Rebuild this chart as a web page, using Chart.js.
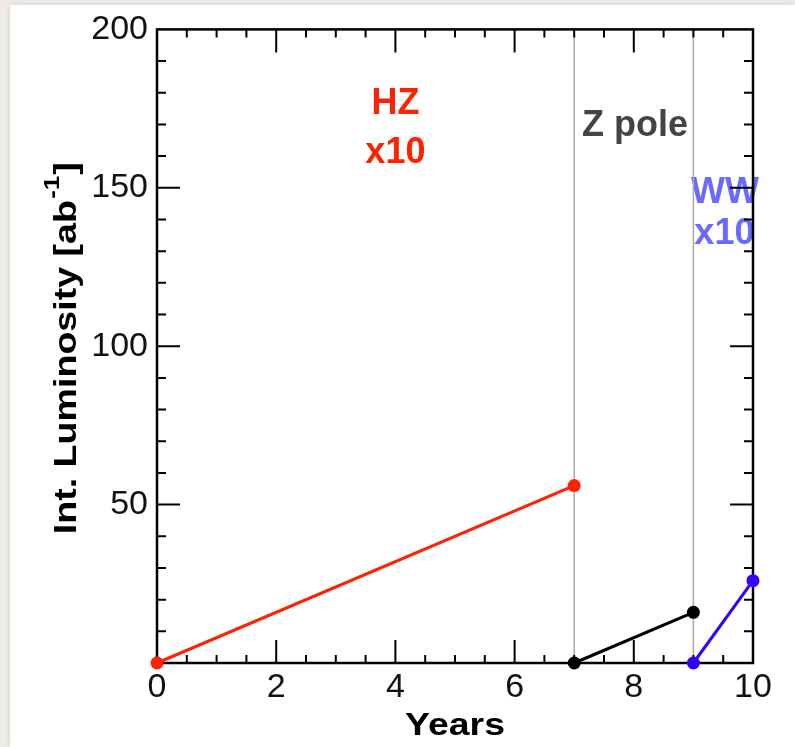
<!DOCTYPE html>
<html>
<head>
<meta charset="utf-8">
<script src="https://cdn.jsdelivr.net/npm/chart.js@4.4.1/dist/chart.umd.min.js"></script>
<style>
  html, body { margin: 0; padding: 0; background: #efece7; }
  #wrap { width: 795px; height: 747px; }
</style>
</head>
<body>
<div id="wrap"><canvas id="lumi-chart" width="795" height="747"></canvas></div>
<script>
// run plan: years vs integrated luminosity
const hzYears = [0, 7];
const hzLumi = [0, 56];
const zYears = [7, 9];
const zLumi = [0, 16];
const wwYears = [9, 10];
const wwLumi = [0, 26];

const xTicks = [0, 2, 4, 6, 8, 10];
const yTicks = [0, 50, 100, 150, 200];
const phaseEdges = [7, 9];

const FONT = "'Liberation Sans', Arial, Helvetica, sans-serif";

function pts(xs, ys) {
    return xs.map((x, i) => ({ x: x, y: ys[i] }));
}

// labels placed in data units
const phaseLabels = [
    { text: 'HZ', x: 4.0, y: 173.2, color: '#ff2200' },
    { text: 'x10', x: 4.0, y: 157.8, color: '#ff2200' },
    { text: 'Z pole', x: 8.02, y: 166.3, color: '#444444' },
    { text: 'WW', x: 9.53, y: 145.2, color: '#6a6aff' },
    { text: 'x10', x: 9.52, y: 132.3, color: '#6a6aff' }
];

const framePlugin = {
    id: 'frame',
    beforeDraw(chart) {
        const ctx = chart.ctx;
        ctx.save();
        ctx.fillStyle = '#efece7';
        ctx.fillRect(0, 0, chart.width, chart.height);
        ctx.shadowColor = 'rgba(0,0,0,0.12)';
        ctx.shadowBlur = 6;
        ctx.fillStyle = '#ffffff';
        ctx.fillRect(10, 5, chart.width - 10, chart.height - 5);
        ctx.restore();
    },
    beforeDatasetsDraw(chart) {
        const ctx = chart.ctx;
        const { left, right, top, bottom } = chart.chartArea;
        const xs = chart.scales.x, ys = chart.scales.y;
        ctx.save();

        // phase labels
        ctx.font = 'bold 36px ' + FONT;
        ctx.textAlign = 'center';
        ctx.textBaseline = 'alphabetic';
        phaseLabels.forEach(l => {
            ctx.fillStyle = l.color;
            ctx.fillText(l.text, xs.getPixelForValue(l.x), ys.getPixelForValue(l.y));
        });

        // phase boundaries
        ctx.strokeStyle = '#aaaaaa';
        ctx.lineWidth = 1.5;
        phaseEdges.forEach(v => {
            const px = xs.getPixelForValue(v);
            ctx.beginPath();
            ctx.moveTo(px, top);
            ctx.lineTo(px, bottom);
            ctx.stroke();
        });

        // frame + inward ticks
        ctx.strokeStyle = '#000';
        ctx.lineWidth = 2.5;
        ctx.strokeRect(left, top, right - left, bottom - top);
        ctx.lineWidth = 2;
        ctx.beginPath();
        for (let v = 0.5; v < 10; v += 0.5) {
            const px = xs.getPixelForValue(v);
            const len = (v % 2 === 0) ? 23 : 8;
            ctx.moveTo(px, bottom); ctx.lineTo(px, bottom - len);
            ctx.moveTo(px, top); ctx.lineTo(px, top + len);
        }
        for (let v = 10; v < 200; v += 10) {
            const py = ys.getPixelForValue(v);
            const len = (v % 50 === 0) ? 23 : 9;
            ctx.moveTo(left, py); ctx.lineTo(left + len, py);
            ctx.moveTo(right, py); ctx.lineTo(right - len, py);
        }
        ctx.stroke();
        ctx.restore();
    },
    afterDraw(chart) {
        const ctx = chart.ctx;
        const { left, right, top, bottom } = chart.chartArea;
        ctx.save();
        ctx.fillStyle = '#000';
        ctx.textBaseline = 'alphabetic';

        // x title, stretched a bit like the original
        ctx.font = 'bold 32px ' + FONT;
        const xt = 'Years';
        const xw = ctx.measureText(xt).width;
        ctx.translate((left + right) / 2, 735);
        ctx.scale(100 / xw, 1);
        ctx.textAlign = 'center';
        ctx.fillText(xt, 0, 0);
        ctx.restore();

        // y title with superscript
        ctx.save();
        ctx.fillStyle = '#000';
        ctx.textBaseline = 'alphabetic';
        ctx.textAlign = 'left';
        const main = 'Int. Luminosity [ab', sup = '-1', end = ']';
        const mainFont = 'bold 32px ' + FONT, supFont = 'bold 22px ' + FONT;
        ctx.font = mainFont;
        const w1 = ctx.measureText(main).width, w3 = ctx.measureText(end).width;
        ctx.font = supFont;
        const w2 = ctx.measureText(sup).width + 2;
        const total = w1 + w2 + w3;
        ctx.translate(76, (top + bottom) / 2 + 2);
        ctx.rotate(-Math.PI / 2);
        ctx.scale(372 / total, 1);
        let x = -total / 2;
        ctx.font = mainFont;
        ctx.fillText(main, x, 0);
        x += w1;
        ctx.font = supFont;
        ctx.fillText(sup, x + 1, -17);
        x += w2;
        ctx.font = mainFont;
        ctx.fillText(end, x, 0);
        ctx.restore();
    }
};

const tickFont = { family: FONT, size: 34 };

new Chart(document.getElementById('lumi-chart').getContext('2d'), {
    type: 'line',
    data: {
        datasets: [
            { label: 'HZ', data: pts(hzYears, hzLumi), borderColor: '#ff2200', backgroundColor: '#ff2200' },
            { label: 'Z pole', data: pts(zYears, zLumi), borderColor: '#000000', backgroundColor: '#000000' },
            { label: 'WW', data: pts(wwYears, wwLumi), borderColor: '#3300ff', backgroundColor: '#3300ff' }
        ].map(d => Object.assign(d, { borderWidth: 3, pointRadius: 6.5, pointBorderWidth: 0, tension: 0, clip: false }))
    },
    options: {
        responsive: false,
        animation: false,
        layout: { padding: { left: 0, top: 28, right: 42, bottom: 0 } },
        plugins: { legend: { display: false }, tooltip: { enabled: false } },
        scales: {
            x: {
                type: 'linear', min: 0, max: 10,
                grid: { display: false, drawTicks: false },
                border: { display: false },
                afterBuildTicks: s => { s.ticks = xTicks.map(v => ({ value: v })); },
                ticks: { color: '#111', font: tickFont, padding: 4, maxRotation: 0 },
                afterFit: s => { s.height = 84; }
            },
            y: {
                type: 'linear', min: 0, max: 200,
                grid: { display: false, drawTicks: false },
                border: { display: false },
                afterBuildTicks: s => { s.ticks = yTicks.map(v => ({ value: v })); },
                ticks: { color: '#111', font: tickFont, padding: 9, callback: v => v === 0 ? '' : v },
                afterFit: s => { s.width = 157; }
            }
        }
    },
    plugins: [framePlugin]
});
</script>
</body>
</html>
